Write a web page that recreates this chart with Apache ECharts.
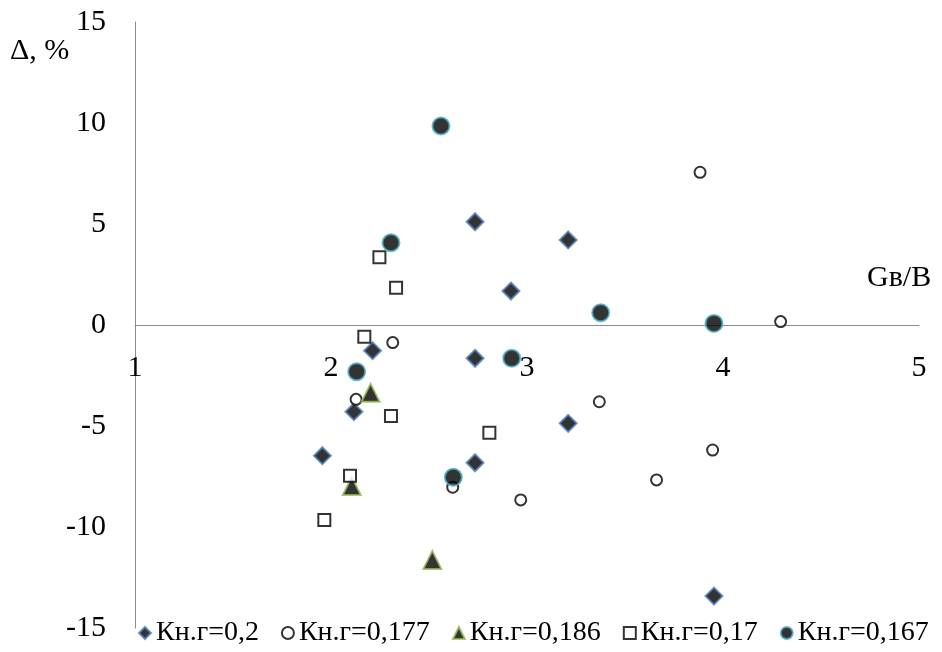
<!DOCTYPE html>
<html>
<head>
<meta charset="utf-8">
<script src="https://cdn.jsdelivr.net/npm/echarts@6/dist/echarts.min.js"></script>
<style>html,body{margin:0;padding:0;background:#fff}#chart{width:942px;height:652px}</style>
</head>
<body>
<div id="chart"></div>
<script>
const seriesNames = ['Кн.г=0,2', 'Кн.г=0,177', 'Кн.г=0,186', 'Кн.г=0,17', 'Кн.г=0,167'];
const s02 = [[2.735,5.11],[3.21,4.21],[2.918,1.68],[2.212,-1.27],[2.735,-1.65],[2.117,-4.29],[3.21,-4.87],[2.735,-6.82],[1.956,-6.47],[3.954,-13.42]];
const s0177 = [[3.883,7.56],[4.294,0.17],[2.315,-0.87],[2.128,-3.68],[3.369,-3.80],[3.947,-6.19],[3.661,-7.67],[2.621,-8.03],[2.968,-8.66]];
const s0186 = [[2.202,-3.35],[2.106,-7.97],[2.517,-11.63]];
const s017 = [[2.247,3.35],[2.332,1.85],[2.17,-0.58],[2.306,-4.50],[2.808,-5.33],[2.097,-7.46],[1.966,-9.65]];
const s0167 = [[2.561,9.85],[2.306,4.07],[3.376,0.61],[2.922,-1.65],[2.131,-2.31],[2.624,-7.54],[3.954,0.08]];
const xTicks = [1,2,3,4,5];
const yTicks = [-15,-10,-5,0,5,10,15];
const xTitle = 'Gв/B';
const yTitle = 'Δ, %';

const font = 'Liberation Serif, Times New Roman, serif';
const W = 942, H = 652;
const gridTop = 22, gridBottom = 24;
const plotH = H - gridTop - gridBottom;
const yMin = yTicks[0], yMax = yTicks[yTicks.length-1];
// move x axis (position bottom) up to the y=0 line
const zeroOffset = -plotH * (0 - yMin) / (yMax - yMin);
const chart = echarts.init(document.getElementById('chart'));
const axisLine = {show:true, onZero:false, lineStyle:{color:'#8c8c8c', width:1}};
chart.setOption({
  backgroundColor:'#fff',
  animation:false,
  grid:{left:135, right:23, top:gridTop, bottom:gridBottom, containLabel:false, outerBoundsMode:'none'},
  xAxis:{type:'value', position:'bottom', offset:zeroOffset, min:xTicks[0], max:xTicks[xTicks.length-1], interval:1,
    axisLine:axisLine, axisTick:{show:false}, splitLine:{show:false},
    axisLabel:{fontFamily:font, fontSize:30, color:'#000', margin:28}},
  yAxis:{type:'value', min:yMin, max:yMax, interval:5,
    axisLine:axisLine, axisTick:{show:false}, splitLine:{show:false},
    axisLabel:{fontFamily:font, fontSize:30, color:'#000', margin:29}},
  legend:{left:133, top:614, itemWidth:12, itemHeight:12, itemGap:22,
    textStyle:{fontFamily:font, fontSize:28, color:'#000'},
    data:seriesNames},
  graphic:[
    {type:'text', left:10, top:36, style:{text:yTitle, font:'30px '+font, fill:'#000'}},
    {type:'text', left:867, top:263, style:{text:xTitle, font:'30px '+font, fill:'#000'}}
  ],
  series:[
    {name:seriesNames[0], type:'scatter', data:s02, symbol:'diamond', symbolSize:17,
      itemStyle:{color:'#000', borderColor:'#4f81bd', borderWidth:2}},
    {name:seriesNames[1], type:'scatter', data:s0177, symbol:'circle', symbolSize:11,
      itemStyle:{color:'#fff', borderColor:'#000', borderWidth:2}},
    {name:seriesNames[2], type:'scatter', data:s0186, symbol:'triangle', symbolSize:18,
      itemStyle:{color:'#000', borderColor:'#9bbb59', borderWidth:2}},
    {name:seriesNames[3], type:'scatter', data:s017, symbol:'rect', symbolSize:12,
      itemStyle:{color:'#fff', borderColor:'#000', borderWidth:2}},
    {name:seriesNames[4], type:'scatter', data:s0167, symbol:'circle', symbolSize:17,
      itemStyle:{color:'#000', borderColor:'#4bacc6', borderWidth:2}}
  ]
});
</script>
</body>
</html>
